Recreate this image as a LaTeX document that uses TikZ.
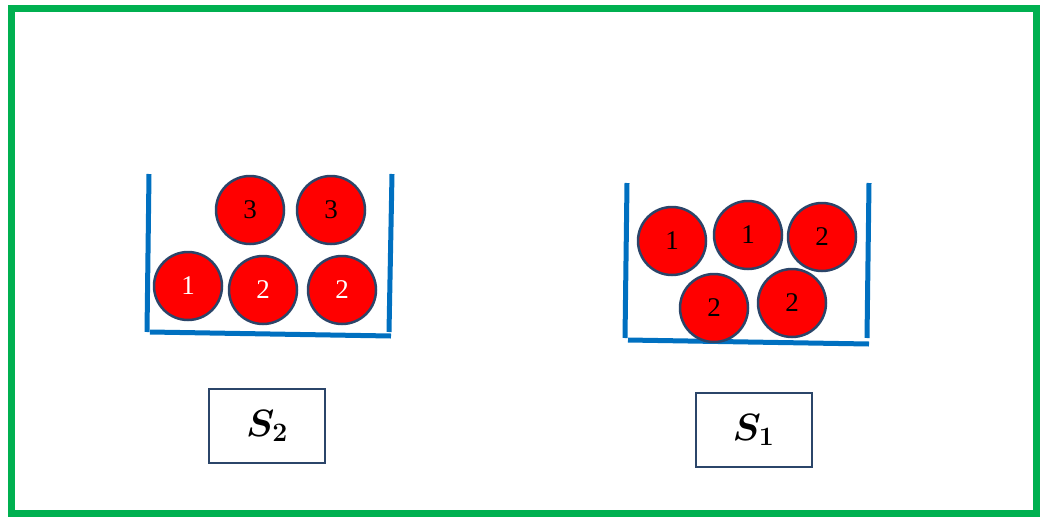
\documentclass[tikz,border=0pt]{standalone}
\usepackage{fix-cm}
\usepackage{bm}
\usepackage[no-math]{fontspec}
\setmainfont{Liberation Serif}
\usepackage{tikz}
\usetikzlibrary{calc,positioning}
\definecolor{framegreen}{HTML}{00B050}
\definecolor{trayblue}{HTML}{0070C0}
\definecolor{ballred}{HTML}{FF0000}
\definecolor{ballrim}{HTML}{2B4569}
\tikzset{
 jar frame/.style={line width=7pt,framegreen},
 jar wall/.style={line width=5pt,trayblue},
 jar ball/.style={circle,fill=ballred,draw=ballrim,line width=2.5pt,
                  minimum size=68pt,inner sep=0pt,
                  font=\fontsize{27}{27}\selectfont},
 jar label/.style={draw=ballrim,line width=2pt,fill=white,
                   minimum width=116pt,minimum height=74pt,
                   font=\fontsize{38}{38}\selectfont}
}

\begin{document}
\begin{tikzpicture}[x=1pt,y=-1pt]
 \useasboundingbox (0,0) rectangle (1044,517);
 \draw[jar frame] (11.5,8.5) rectangle (1036.5,513.5);

 % left jar
 \coordinate (a1) at (149,174);
 \coordinate (a2) at (147,332);
 \coordinate (a3) at (150,332);
 \coordinate (a4) at (391,336);
 \coordinate (a5) at (392,174);
 \coordinate (a6) at (389,332);
 \draw[jar wall] (a1)--(a2);
 \draw[jar wall] (a3)--(a4);
 \draw[jar wall] (a5)--(a6);

 \node[jar ball,text=white] (l1) at (188,286) {1};
 \node[jar ball,text=white] (l2) at (263,290) {2};
 \node[jar ball,text=white] (l3) at (342,290) {2};
 \node[jar ball] (l4) at (250,210) {3};
 \node[jar ball] (l5) at (331,210) {3};

 % right jar
 \coordinate (b1) at (627,183);
 \coordinate (b2) at (625,338);
 \coordinate (b3) at (628,340);
 \coordinate (b4) at (869,344);
 \coordinate (b5) at (869,183);
 \coordinate (b6) at (867,338);
 \draw[jar wall] (b1)--(b2);
 \draw[jar wall] (b3)--(b4);
 \draw[jar wall] (b5)--(b6);

 \node[jar ball] (r1) at (672,241) {1};
 \node[jar ball] (r2) at (748,235) {1};
 \node[jar ball] (r3) at (822,237) {2};
 \node[jar ball] (r4) at (714,308) {2};
 \node[jar ball] (r5) at (792,303) {2};

 \node[jar label] (s2) at (267,426) {$\bm{S_2}$};
 \node[jar label] (s1) at (753.5,430) {$\bm{S_1}$};
\end{tikzpicture}
\end{document}
